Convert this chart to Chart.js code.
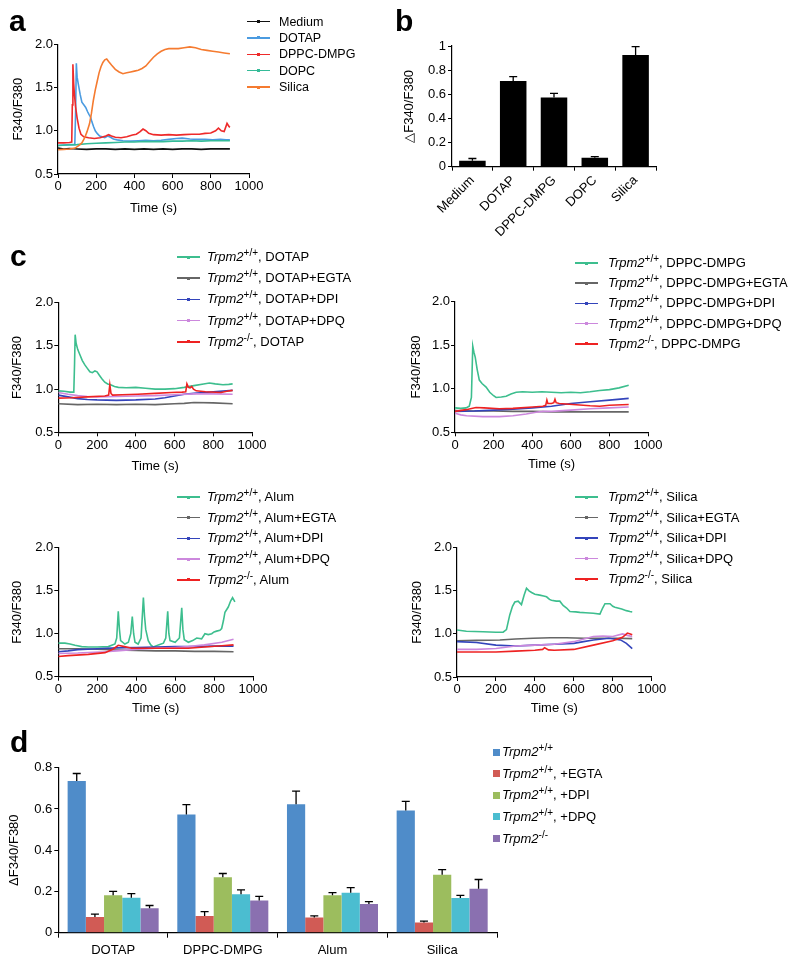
<!DOCTYPE html>
<html>
<head>
<meta charset="utf-8">
<script src="https://cdn.jsdelivr.net/npm/chart.js@4.4.1/dist/chart.umd.min.js"></script>
<style>
  body { margin: 0; background: #fff; width: 800px; height: 962px; position: relative; overflow: hidden;
         font-family: "Liberation Sans", Arial, sans-serif; color: #000; }
  canvas { position: absolute; z-index: 1; }
  .panel { position: absolute; font-weight: bold; font-size: 30px; line-height: 1; z-index: 3; }
  .leg { position: absolute; left: 0; top: 0; z-index: 2; white-space: nowrap; }
  .leg sup { font-size: 10px; line-height: 0; vertical-align: 5px; }
</style>
</head>
<body>
<div class="panel" style="left:9px;top:6px">a</div>
<div class="panel" style="left:395px;top:6px">b</div>
<div class="panel" style="left:10px;top:241px">c</div>
<div class="panel" style="left:10px;top:727px">d</div>

<canvas id="chartA" width="265" height="186"></canvas>
<canvas id="chartB" width="280" height="220"></canvas>
<canvas id="chartC1" width="270" height="184"></canvas>
<canvas id="chartC2" width="270" height="182"></canvas>
<canvas id="chartC3" width="270" height="181"></canvas>
<canvas id="chartC4" width="270" height="181"></canvas>
<canvas id="chartD" width="520" height="207"></canvas>

<script>
// ---- panel a: time courses [time (s), F340/F380]
const aMedium = [[0,0.80],[30,0.79],[60,0.795],[100,0.79],[150,0.785],[200,0.79],[250,0.79],[300,0.785],[350,0.79],[400,0.785],[450,0.79],[500,0.785],[550,0.79],[600,0.785],[650,0.79],[700,0.79],[750,0.785],[800,0.79],[850,0.79],[900,0.79]];
const aDOTAP = [[0,0.83],[30,0.835],[60,0.84],[88,0.84],[92,1.2],[96,1.78],[100,1.62],[108,1.52],[116,1.42],[125,1.33],[135,1.30],[145,1.27],[155,1.22],[162,1.19],[170,1.16],[178,1.10],[186,1.05],[195,1.0],[205,0.97],[218,0.94],[230,0.93],[245,0.92],[260,0.94],[275,0.925],[290,0.905],[310,0.895],[340,0.885],[380,0.88],[420,0.885],[460,0.89],[500,0.885],[540,0.89],[580,0.9],[620,0.91],[650,0.915],[690,0.905],[730,0.9],[770,0.9],[810,0.895],[850,0.9],[880,0.895],[900,0.895]];
const aDPPC = [[0,0.86],[30,0.86],[60,0.865],[72,0.87],[75,1.3],[78,1.77],[82,1.55],[86,1.42],[92,1.28],[100,1.15],[110,1.03],[120,0.96],[135,0.93],[160,0.92],[190,0.91],[220,0.92],[250,0.94],[265,0.955],[280,0.94],[300,0.925],[330,0.92],[360,0.93],[390,0.95],[410,0.96],[430,0.99],[445,1.02],[460,1.0],[475,0.97],[500,0.955],[540,0.95],[580,0.955],[620,0.95],[660,0.955],[700,0.96],[740,0.96],[770,0.97],[800,0.975],[825,1.0],[840,1.03],[855,1.0],[870,0.99],[885,1.085],[895,1.05],[900,1.04]];
const aDOPC = [[0,0.83],[50,0.835],[100,0.84],[150,0.85],[200,0.855],[250,0.86],[300,0.865],[350,0.87],[400,0.87],[450,0.875],[500,0.875],[550,0.875],[600,0.88],[650,0.88],[700,0.885],[750,0.88],[800,0.885],[850,0.885],[900,0.885]];
const aSilica = [[0,0.78],[30,0.785],[60,0.79],[90,0.80],[110,0.83],[125,0.86],[140,0.92],[152,0.99],[165,1.08],[175,1.2],[185,1.35],[195,1.47],[205,1.57],[215,1.67],[225,1.74],[235,1.79],[245,1.82],[255,1.83],[265,1.80],[280,1.76],[300,1.71],[320,1.68],[340,1.66],[360,1.67],[380,1.68],[400,1.69],[420,1.70],[440,1.72],[460,1.75],[480,1.80],[500,1.85],[520,1.89],[540,1.92],[560,1.94],[580,1.95],[600,1.95],[630,1.95],[660,1.96],[690,1.97],[720,1.96],[750,1.94],[780,1.93],[810,1.92],[840,1.91],[870,1.90],[900,1.89]];
const aNames = ['Medium', 'DOTAP', 'DPPC-DMPG', 'DOPC', 'Silica'];

// ---- panel b: peak response
const bCats = ['Medium', 'DOTAP', 'DPPC-DMPG', 'DOPC', 'Silica'];
const bValues = [0.05, 0.71, 0.573, 0.075, 0.925];
const bErrors = [0.018, 0.036, 0.035, 0.008, 0.069];

// ---- panel c1: DOTAP
const c1WT = [[0,0.98],[30,0.975],[60,0.965],[80,0.965],[84,1.3],[87,1.63],[92,1.53],[100,1.46],[111,1.40],[124,1.33],[137,1.28],[150,1.24],[163,1.20],[176,1.19],[189,1.21],[200,1.20],[212,1.16],[225,1.12],[240,1.08],[255,1.06],[270,1.05],[290,1.03],[310,1.02],[350,1.015],[400,1.02],[450,1.01],[500,1.0],[550,1.0],[600,1.005],[650,1.02],[700,1.04],[750,1.06],[780,1.07],[810,1.06],[850,1.05],[880,1.055],[900,1.06]];
const c1EGTA = [[0,0.83],[100,0.82],[200,0.825],[300,0.82],[400,0.825],[500,0.82],[600,0.83],[650,0.835],[700,0.845],[800,0.84],[900,0.83]];
const c1DPI = [[0,0.93],[50,0.91],[100,0.89],[150,0.88],[200,0.875],[300,0.87],[400,0.875],[500,0.885],[550,0.9],[600,0.92],[650,0.94],[700,0.95],[800,0.97],[900,0.985]];
const c1DPQ = [[0,0.96],[50,0.94],[100,0.925],[150,0.915],[200,0.91],[300,0.915],[400,0.92],[500,0.925],[600,0.935],[700,0.945],[800,0.945],[900,0.94]];
const c1KO = [[0,0.895],[70,0.90],[150,0.91],[240,0.92],[260,0.93],[266,1.05],[272,0.95],[280,0.93],[330,0.935],[410,0.94],[500,0.95],[583,0.96],[640,0.965],[658,0.97],[664,1.06],[672,1.02],[680,1.015],[689,1.03],[698,1.0],[712,0.98],[760,0.97],[840,0.96],[870,0.975],[900,0.985]];

// ---- panel c2: DPPC-DMPG
const c2WT = [[0,0.78],[30,0.775],[57,0.78],[74,0.80],[85,0.9],[92,1.49],[98,1.42],[105,1.36],[115,1.22],[126,1.10],[140,1.06],[161,1.02],[180,0.96],[200,0.92],[213,0.90],[240,0.905],[265,0.915],[290,0.94],[317,0.96],[350,0.965],[400,0.96],[450,0.965],[500,0.96],[550,0.955],[600,0.96],[650,0.955],[700,0.965],[750,0.98],[800,0.99],[850,1.01],[900,1.04]];
const c2EGTA = [[0,0.75],[100,0.745],[200,0.745],[300,0.74],[400,0.74],[500,0.735],[600,0.735],[700,0.735],[800,0.735],[900,0.735]];
const c2DPI = [[0,0.74],[100,0.745],[200,0.755],[300,0.765],[400,0.78],[500,0.8],[600,0.83],[700,0.85],[800,0.87],[900,0.89]];
const c2DPQ = [[0,0.72],[30,0.70],[60,0.69],[144,0.68],[230,0.68],[300,0.69],[369,0.71],[420,0.73],[455,0.74],[500,0.74],[600,0.755],[700,0.77],[800,0.78],[900,0.79]];
const c2KO = [[0,0.74],[57,0.76],[109,0.785],[150,0.78],[230,0.77],[300,0.775],[403,0.79],[455,0.80],[470,0.81],[476,0.87],[481,0.83],[500,0.83],[512,0.84],[518,0.88],[524,0.84],[540,0.83],[611,0.82],[700,0.805],[750,0.80],[800,0.81],[900,0.82]];

// ---- panel c3: Alum
const c3WT = [[0,0.89],[34,0.89],[60,0.88],[86,0.865],[120,0.85],[154,0.845],[200,0.845],[257,0.85],[291,0.88],[300,0.95],[308,1.26],[314,1.05],[320,0.92],[342,0.88],[360,0.90],[372,1.0],[380,1.20],[387,1.0],[394,0.90],[410,0.88],[425,0.95],[437,1.42],[443,1.2],[449,1.05],[462,0.92],[475,0.87],[488,0.845],[514,0.87],[540,0.89],[552,0.95],[562,1.26],[568,1.0],[574,0.92],[600,0.90],[622,0.95],[634,1.30],[640,1.05],[647,0.93],[668,0.90],[690,0.92],[711,0.95],[736,0.94],[753,1.0],[770,0.99],[788,1.0],[800,1.02],[813,1.03],[830,1.04],[839,1.06],[848,1.15],[856,1.25],[873,1.31],[885,1.38],[895,1.42],[900,1.40],[907,1.37]];
const c3EGTA = [[0,0.825],[100,0.825],[200,0.82],[300,0.81],[400,0.805],[500,0.80],[600,0.80],[700,0.795],[800,0.795],[900,0.79]];
const c3DPI = [[0,0.79],[50,0.80],[100,0.815],[200,0.825],[300,0.835],[400,0.84],[500,0.845],[600,0.85],[700,0.85],[800,0.855],[900,0.855]];
const c3DPQ = [[0,0.77],[100,0.775],[240,0.79],[300,0.80],[411,0.82],[500,0.83],[600,0.84],[668,0.85],[750,0.87],[840,0.90],[900,0.935]];
const c3KO = [[0,0.735],[50,0.745],[154,0.76],[240,0.78],[280,0.82],[308,0.865],[340,0.85],[377,0.83],[450,0.83],[550,0.83],[668,0.83],[750,0.845],[840,0.86],[900,0.87]];

// ---- panel c4: Silica
const c4WT = [[0,1.045],[48,1.03],[134,1.025],[200,1.02],[237,1.02],[254,1.05],[271,1.22],[285,1.32],[297,1.37],[314,1.38],[331,1.34],[345,1.45],[357,1.53],[370,1.50],[383,1.48],[400,1.46],[425,1.45],[445,1.44],[460,1.43],[475,1.40],[485,1.39],[510,1.38],[528,1.38],[545,1.33],[563,1.30],[580,1.26],[610,1.255],[631,1.25],[660,1.245],[700,1.24],[734,1.23],[748,1.30],[760,1.35],[786,1.35],[800,1.32],[811,1.31],[846,1.29],[870,1.27],[888,1.26],[900,1.255]];
const c4EGTA = [[0,0.92],[100,0.925],[220,0.93],[300,0.94],[391,0.95],[480,0.955],[563,0.955],[650,0.95],[734,0.95],[820,0.95],[900,0.945]];
const c4DPI = [[0,0.91],[100,0.90],[200,0.87],[300,0.86],[400,0.87],[500,0.88],[600,0.89],[650,0.91],[700,0.93],[780,0.95],[840,0.93],[870,0.89],[900,0.83]];
const c4DPQ = [[0,0.82],[100,0.82],[200,0.83],[300,0.86],[400,0.87],[500,0.88],[600,0.91],[700,0.97],[750,0.975],[800,0.97],[850,1.0],[880,0.98],[900,0.97]];
const c4KO = [[0,0.79],[100,0.79],[200,0.79],[300,0.80],[400,0.81],[440,0.82],[450,0.84],[470,0.815],[500,0.81],[600,0.82],[700,0.87],[800,0.92],[850,0.96],[875,1.01],[890,1.0],[900,0.99]];

// ---- panel d: summary
const dCats = ['DOTAP', 'DPPC-DMPG', 'Alum', 'Silica'];
const dWT = [0.735, 0.573, 0.623, 0.592];
const dWTErr = [0.037, 0.048, 0.063, 0.045];
const dEGTA = [0.076, 0.081, 0.074, 0.05];
const dEGTAErr = [0.014, 0.021, 0.008, 0.006];
const dDPI = [0.182, 0.269, 0.181, 0.281];
const dDPIErr = [0.018, 0.018, 0.013, 0.025];
const dDPQ = [0.169, 0.187, 0.194, 0.168];
const dDPQErr = [0.02, 0.021, 0.025, 0.013];
const dKO = [0.119, 0.156, 0.139, 0.213];
const dKOErr = [0.013, 0.02, 0.012, 0.045];

const xTicks = [0, 200, 400, 600, 800, 1000];
const yTicks = [0.5, 1.0, 1.5, 2.0];

const aColors = ['#111111', '#4b9be0', '#ee2a2a', '#35bb98', '#f57b30'];
const cColors = ['#3dbe8e', '#666666', '#3344bb', '#cc88dd', '#ee2222'];
const dColors = ['#4f8cc9', '#d15b55', '#9cbd5e', '#4bbdd0', '#8a70b0'];

Chart.defaults.font.family = '"Liberation Sans", Arial, sans-serif';
Chart.defaults.color = '#000';

const FONT = { size: 13 };

// draw error bars (upper half only) on top of the bars
const errorBars = {
    id: "errorBars",
    afterDatasetsDraw(chart) {
        const ctx = chart.ctx;
        const yScale = chart.scales.y;
        chart.data.datasets.forEach((ds, di) => {
            if (!ds.errors) return;
            const meta = chart.getDatasetMeta(di);
            meta.data.forEach((bar, i) => {
                const top = yScale.getPixelForValue(ds.data[i] + ds.errors[i]);
                ctx.save();
                ctx.strokeStyle = "#000";
                ctx.lineWidth = 1.3;
                ctx.beginPath();
                ctx.moveTo(bar.x, bar.y);
                ctx.lineTo(bar.x, top);
                ctx.moveTo(bar.x - 4, top);
                ctx.lineTo(bar.x + 4, top);
                ctx.stroke();
                ctx.restore();
            });
        });
    },
};

// place canvas and pin the plot area to fixed pixels
function setupCanvas(id, box) {
    const cv = document.getElementById(id);
    cv.style.left = box.x + "px";
    cv.style.top = box.y + "px";
    return cv;
}

function fixY(width) {
    return (s) => {
        s.width = width;
        s.paddingTop = 0;
        s.paddingBottom = 0;
    };
}

function fixX(height) {
    return (s) => {
        s.height = height;
        s.paddingLeft = 0;
        s.paddingRight = 0;
    };
}

function axisGrid(len) {
    return { drawOnChartArea: false, drawTicks: true, tickLength: len, color: "#000", lineWidth: 1 };
}

function lineChart(id, box, area, series, colors, yTitlePad) {
    const cv = setupCanvas(id, box);
    new Chart(cv.getContext("2d"), {
        type: "line",
        data: {
            datasets: series.map((s, i) => ({
                data: s.map((p) => ({ x: p[0], y: p[1] })),
                borderColor: colors[i],
                borderWidth: 1.6,
                pointRadius: 0,
                tension: 0,
                fill: false,
            })),
        },
        options: {
            responsive: false,
            animation: false,
            layout: {
                padding: { top: area.t - box.y, right: box.x + box.w - area.r, left: 0, bottom: 0 },
            },
            plugins: { legend: { display: false }, tooltip: { enabled: false } },
            scales: {
                x: {
                    type: "linear",
                    min: 0,
                    max: 1000,
                    afterBuildTicks: (s) => { s.ticks = xTicks.map((v) => ({ value: v })); },
                    ticks: { font: FONT, padding: 1, minRotation: 0, maxRotation: 0, autoSkip: false,
                             callback: (v) => String(v) },
                    grid: axisGrid(4),
                    border: { color: "#000", width: 1.2 },
                    title: { display: true, text: "Time (s)", font: FONT, padding: { top: 0, bottom: 0 } },
                    afterFit: fixX(box.y + box.h - area.b),
                },
                y: {
                    min: 0.5,
                    max: 2.0,
                    afterBuildTicks: (s) => { s.ticks = yTicks.map((v) => ({ value: v })); },
                    ticks: { font: FONT, padding: 1, callback: (v) => v.toFixed(1) },
                    grid: axisGrid(4),
                    border: { color: "#000", width: 1.2 },
                    title: { display: true, text: "F340/F380", font: FONT, padding: { top: yTitlePad, bottom: 0 } },
                    afterFit: fixY(area.l - box.x),
                },
            },
        },
    });
}

function buildLegend(cfg) {
    const wrap = document.createElement("div");
    wrap.className = "leg";
    wrap.style.fontSize = cfg.font + "px";
    cfg.items.forEach((text, i) => {
        const cy = cfg.y0 + i * cfg.dy;
        const color = cfg.colors[i];
        if (cfg.box) {
            const sq = document.createElement("div");
            sq.style.cssText = `position:absolute;left:${cfg.markX}px;top:${cy - 3.5}px;width:7px;height:7px;background:${color}`;
            wrap.appendChild(sq);
        } else {
            const ln = document.createElement("div");
            ln.style.cssText = `position:absolute;left:${cfg.markX}px;top:${cy - 0.75}px;width:23px;height:1.5px;background:${color}`;
            const dot = document.createElement("div");
            dot.style.cssText = `position:absolute;left:${cfg.markX + 10}px;top:${cy - 1.5}px;width:3px;height:3px;background:${color}`;
            wrap.appendChild(ln);
            wrap.appendChild(dot);
        }
        const tx = document.createElement("div");
        tx.style.cssText = `position:absolute;left:${cfg.textX}px;top:${cy - 9}px;height:18px;line-height:18px`;
        tx.innerHTML = text;
        wrap.appendChild(tx);
    });
    document.body.appendChild(wrap);
}

function trpm(sup, rest) {
    return "<i>Trpm2</i><sup>" + sup + "</sup>" + (rest ? ", " + rest : "");
}

// ---- a
lineChart("chartA", { x: 0, y: 30, w: 265, h: 186 }, { l: 58, r: 249, t: 44.3, b: 174 },
    [aMedium, aDOTAP, aDPPC, aDOPC, aSilica].reverse(), aColors.slice().reverse(), 10.2);
buildLegend({ font: 12.5, markX: 247, textX: 279, y0: 21.5, dy: 16.4, colors: aColors, items: aNames });

// ---- c
const cSeries = [
    { id: "chartC1", box: { x: 0, y: 290, w: 270, h: 184 }, area: { l: 58.3, r: 252, t: 302.7, b: 432.3 }, data: [c1WT, c1EGTA, c1DPI, c1DPQ, c1KO], pad: 9.7, name: "DOTAP", leg: { markX: 177, textX: 207, y0: 257, dy: 21.2 } },
    { id: "chartC2", box: { x: 400, y: 290, w: 270, h: 182 }, area: { l: 455, r: 648, t: 301.7, b: 432.3 }, data: [c2WT, c2EGTA, c2DPI, c2DPQ, c2KO], pad: 8.2, name: "DPPC-DMPG", leg: { markX: 575, textX: 608, y0: 263, dy: 20.2 } },
    { id: "chartC3", box: { x: 0, y: 535, w: 270, h: 181 }, area: { l: 58.3, r: 253, t: 547.7, b: 676.7 }, data: [c3WT, c3EGTA, c3DPI, c3DPQ, c3KO], pad: 9.7, name: "Alum", leg: { markX: 177, textX: 207, y0: 497, dy: 20.7 } },
    { id: "chartC4", box: { x: 400, y: 535, w: 270, h: 181 }, area: { l: 457, r: 651.7, t: 547.7, b: 677 }, data: [c4WT, c4EGTA, c4DPI, c4DPQ, c4KO], pad: 9.7, name: "Silica", leg: { markX: 575, textX: 608, y0: 497, dy: 20.5 } },
];
cSeries.forEach((c) => {
    lineChart(c.id, c.box, c.area, c.data.slice().reverse(), cColors.slice().reverse(), c.pad);
    buildLegend(Object.assign({ font: 13, colors: cColors, items: [
        trpm("+/+", c.name), trpm("+/+", c.name + "+EGTA"), trpm("+/+", c.name + "+DPI"),
        trpm("+/+", c.name + "+DPQ"), trpm("-/-", c.name)] }, c.leg));
});

// ---- b
(function () {
    const box = { x: 390, y: 30, w: 280, h: 220 };
    const area = { l: 452, r: 656, t: 46, b: 166.7 };
    const cv = setupCanvas("chartB", box);
    new Chart(cv.getContext("2d"), {
        type: "bar",
        data: {
            labels: bCats,
            datasets: [{ data: bValues, errors: bErrors, backgroundColor: "#000", categoryPercentage: 1, barPercentage: 0.65 }],
        },
        plugins: [errorBars],
        options: {
            responsive: false,
            animation: false,
            layout: { padding: { top: area.t - box.y, right: box.x + box.w - area.r, left: 0, bottom: 0 } },
            plugins: { legend: { display: false }, tooltip: { enabled: false } },
            scales: {
                x: {
                    ticks: { font: { size: 13 }, minRotation: 45, maxRotation: 45, autoSkip: false, padding: 2 },
                    grid: Object.assign(axisGrid(4), { offset: true }),
                    border: { color: "#000", width: 1.2 },
                    afterFit: fixX(box.y + box.h - area.b),
                },
                y: {
                    min: 0,
                    max: 1,
                    ticks: { stepSize: 0.2, font: { size: 13 }, padding: 2,
                             callback: (v) => (v === 0 || v === 1 ? String(v) : v.toFixed(1)) },
                    grid: axisGrid(4),
                    border: { color: "#000", width: 1.2 },
                    title: { display: true, text: "\u25B3F340/F380", font: { size: 13 }, padding: { top: 12, bottom: 0 } },
                    afterFit: fixY(area.l - box.x),
                },
            },
        },
    });
})();

// ---- d
(function () {
    const box = { x: 0, y: 755, w: 520, h: 207 };
    const area = { l: 58.3, r: 497, t: 767.7, b: 932.7 };
    const cv = setupCanvas("chartD", box);
    const vals = [dWT, dEGTA, dDPI, dDPQ, dKO];
    const errs = [dWTErr, dEGTAErr, dDPIErr, dDPQErr, dKOErr];
    new Chart(cv.getContext("2d"), {
        type: "bar",
        data: {
            labels: dCats,
            datasets: vals.map((v, i) => ({
                data: v,
                errors: errs[i],
                backgroundColor: dColors[i],
                categoryPercentage: 0.83,
                barPercentage: 1,
            })),
        },
        plugins: [errorBars],
        options: {
            responsive: false,
            animation: false,
            layout: { padding: { top: area.t - box.y, right: box.x + box.w - area.r, left: 0, bottom: 0 } },
            plugins: { legend: { display: false }, tooltip: { enabled: false } },
            scales: {
                x: {
                    ticks: { font: FONT, padding: 4.5 },
                    grid: Object.assign(axisGrid(5), { offset: true }),
                    border: { color: "#000", width: 1.2 },
                    afterFit: fixX(box.y + box.h - area.b),
                },
                y: {
                    min: 0,
                    max: 0.8,
                    ticks: { stepSize: 0.2, font: FONT, padding: 2,
                             callback: (v) => (v === 0 ? "0" : v.toFixed(1)) },
                    grid: axisGrid(4),
                    border: { color: "#000", width: 1.2 },
                    title: { display: true, text: "\u0394F340/F380", font: FONT, padding: { top: 6.2, bottom: 0 } },
                    afterFit: fixY(area.l - box.x),
                },
            },
        },
    });
    buildLegend({ font: 13, box: true, markX: 493, textX: 502, y0: 752, dy: 21.65, colors: dColors, items: [
        trpm("+/+"), trpm("+/+", "+EGTA"), trpm("+/+", "+DPI"), trpm("+/+", "+DPQ"), trpm("-/-")] });
})();
</script>
</body>
</html>
